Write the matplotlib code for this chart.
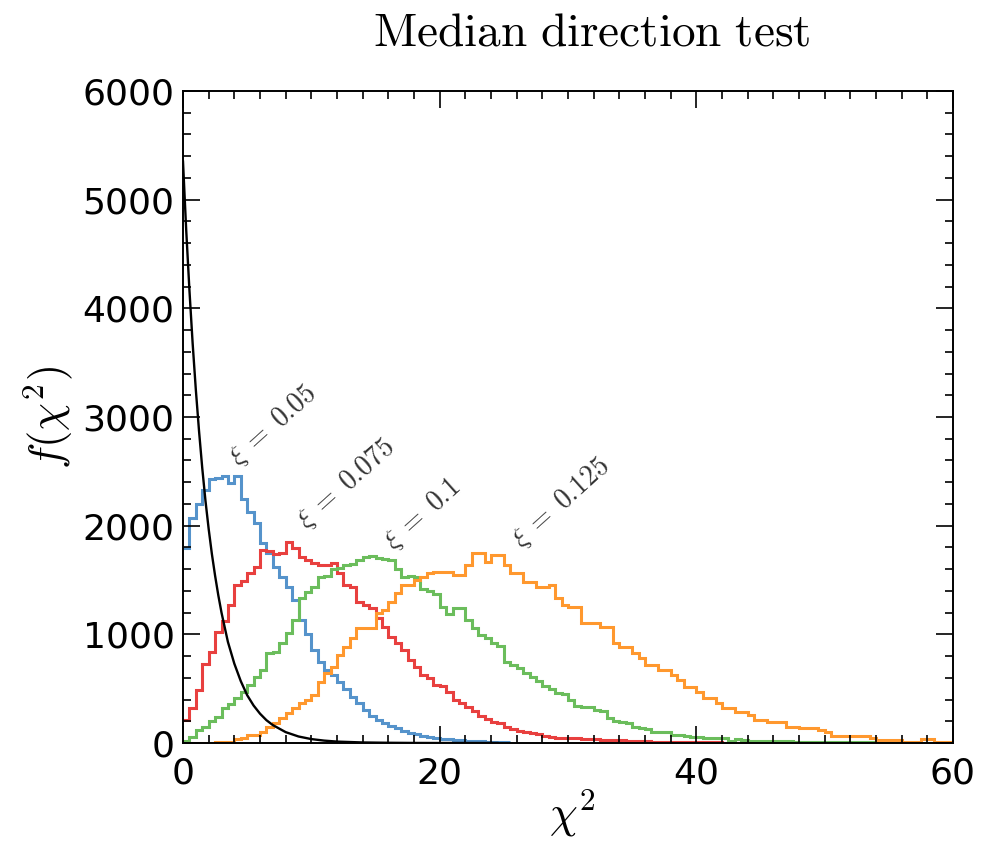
import numpy as np
import matplotlib
matplotlib.use("Agg")
from matplotlib import pyplot as plt
from matplotlib.ticker import MultipleLocator

plt.rcParams['mathtext.fontset'] = 'cm'
plt.rcParams['font.family'] = ['DejaVu Sans']

bin_width = 0.5

blue = [1790, 2070, 2200, 2330, 2430, 2440, 2460, 2390, 2460, 2250,
        2130, 2020, 1840, 1750, 1620, 1530, 1440, 1320, 1130, 1000,
        860, 750, 670, 630, 560, 500, 420, 370, 300, 250,
        215, 180, 160, 140, 115, 95, 80, 65, 55, 45,
        40, 35, 30, 25, 20, 18, 15, 12, 10, 8, 5]

red = [210, 320, 490, 730, 840, 1020, 1120, 1270, 1450, 1490,
       1560, 1620, 1780, 1770, 1740, 1750, 1850, 1790, 1710, 1680,
       1660, 1640, 1640, 1660, 1560, 1450, 1440, 1300, 1270, 1240,
       1150, 1070, 980, 920, 860, 760, 700, 630, 600, 530,
       520, 470, 400, 365, 335, 290, 250, 225, 195, 180,
       150, 130, 115, 100, 90, 80, 60, 55, 50, 45,
       50, 45, 40, 40, 35, 30, 30, 25, 25, 20,
       20, 18, 15, 12, 12, 10, 10, 8, 8, 6,
       6, 5, 5, 5, 4, 4, 4, 3, 3, 3, 2, 2, 2, 2, 1, 1]

green = [20, 58, 120, 150, 200, 243, 319, 360, 411, 470,
         535, 610, 672, 825, 840, 920, 1010, 1130, 1330, 1390,
         1440, 1530, 1540, 1600, 1610, 1640, 1650, 1680, 1710, 1720,
         1700, 1690, 1680, 1600, 1530, 1540, 1530, 1420, 1400, 1370,
         1250, 1190, 1240, 1240, 1130, 1060, 990, 970, 920, 890,
         750, 720, 690, 640, 610, 570, 520, 500, 460, 450,
         400, 340, 335, 330, 300, 290, 230, 200, 195, 180,
         150, 140, 130, 105, 100, 100, 75, 70, 60, 55,
         55, 45, 45, 45, 45, 15, 35, 30, 22, 22,
         20, 20, 15, 15, 15, 12, 12, 10, 10, 10,
         8, 8, 8, 6, 6, 6, 5, 5, 4, 4,
         4, 3, 3, 3, 2, 2, 2, 2, 1, 1]

orange = [0, 0, 0, 2, 4, 6, 8, 12, 40, 45,
          74, 74, 104, 150, 181, 227, 273, 320, 365, 396,
          442, 564, 641, 703, 810, 887, 963, 1055, 1055, 1060,
          1193, 1224, 1301, 1377, 1454, 1454, 1500, 1530, 1561, 1577,
          1577, 1577, 1546, 1546, 1638, 1745, 1745, 1669, 1730, 1730,
          1638, 1561, 1561, 1485, 1485, 1439, 1439, 1454, 1331, 1270,
          1255, 1255, 1101, 1101, 1101, 1071, 1071, 917, 887, 887,
          825, 779, 718, 718, 672, 672, 626, 580, 519, 519,
          473, 411, 411, 365, 319, 319, 289, 289, 258, 212,
          212, 196, 196, 196, 150, 150, 135, 135, 135, 120,
          105, 65, 65, 65, 65, 65, 65, 43, 28, 28,
          28, 28, 12, 12, 12, 34, 34, 12, 12, 12]

null_x = [0, 0.25, 0.5, 0.75, 1.0, 1.25, 1.5, 1.75, 2.0, 2.25, 2.5, 2.75, 3.0,
          3.5, 4.0, 4.5, 5.0, 5.5, 6.0, 6.5, 7.0, 8.0, 9.0, 10.0, 11.0, 12.0,
          14.0, 16.0, 18.0, 20.0, 24.5]
null_y = [5350, 4720, 4170, 3680, 3250, 2870, 2530, 2230, 1970, 1740, 1540,
          1360, 1200, 930, 730, 570, 440, 345, 270, 210, 165, 100, 60, 36,
          22, 13, 5, 2, 0.5, 0, 0]

labels = [r'$\xi\;=\;0.05$', r'$\xi\;=\;0.075$', r'$\xi\;=\;0.1$', r'$\xi\;=\;0.125$']
label_x = [4.3, 9.6, 16.4, 26.4]
label_y = [2540, 1960, 1770, 1790]

colors = ['#5593cb', '#e8403f', '#6bbd5c', '#ff982e']

fig = plt.figure(figsize=(9.96, 8.46), dpi=100)
ax = fig.add_axes([183/996, 1-743/846, (953-183)/996, (743-91)/846])

for vals, c in zip([blue, red, green, orange], colors):
    edges = np.arange(len(vals) + 1) * bin_width
    ax.stairs(vals, edges, baseline=None, color=c, linewidth=2.2)

ax.plot(null_x, null_y, color='black', linewidth=1.7)

for t, x, y in zip(labels, label_x, label_y):
    ax.text(x, y, t, fontsize=20, rotation=42, rotation_mode='anchor',
            ha='left', va='baseline', color='#333333')

ax.set_xlim(0, 60)
ax.set_ylim(0, 6000)
ax.xaxis.set_major_locator(MultipleLocator(20))
ax.xaxis.set_minor_locator(MultipleLocator(2))
ax.yaxis.set_major_locator(MultipleLocator(1000))
ax.yaxis.set_minor_locator(MultipleLocator(200))
ax.tick_params(which='both', direction='in', top=True, right=True, width=1.2)
ax.tick_params(which='major', length=12, labelsize=26)
ax.tick_params(which='minor', length=6)
ax.tick_params(axis='y', pad=6)
ax.tick_params(axis='x', pad=10)
for s in ax.spines.values():
    s.set_linewidth(1.4)

fig.text(592/996, 1-45/846, r'$\mathrm{Median\ direction\ test}$', fontsize=34,
         ha='center', va='baseline')
fig.text(48/996, 1-418/846, r'$f(\chi^2)$', fontsize=32, rotation=90,
         ha='center', va='center')
fig.text(572/996, 1-813/846, r'$\chi^2$', fontsize=32, ha='center', va='center')

fig.savefig('out.png', dpi=100)
